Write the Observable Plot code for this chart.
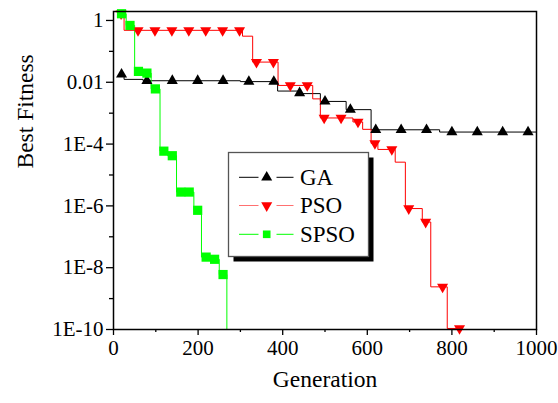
<!DOCTYPE html>
<html><head><meta charset="utf-8">
<script src="https://cdn.jsdelivr.net/npm/d3@7"></script>
<script src="https://cdn.jsdelivr.net/npm/@observablehq/plot@0.6"></script>
<style>
body{margin:0;background:#fff;}
#chart{position:relative;width:558px;height:403px;}
</style></head><body><div id="chart"></div>
<script>
// ---- data ----
const seriesNames = ["GA", "PSO", "SPSO"];

// GA step line (generation where a new best value starts, value)
const gaGen = [19, 25, 70, 300, 388, 440, 489, 550, 609, 771, 1000];
const gaVal = [0.018, 0.0124, 0.0112, 0.0105, 0.0052, 0.0043, 0.0024, 0.0013, 0.00029, 0.000245, 0.000245];
// GA markers
const gaMarkGen = [19, 79, 139, 199, 259, 320, 379, 440, 500, 560, 620, 680, 740, 800, 860, 920, 980];
const gaMarkVal = [0.018, 0.0112, 0.0112, 0.0112, 0.0112, 0.0105, 0.0105, 0.0045, 0.0024, 0.0013, 0.00029, 0.00029, 0.00029, 0.000245, 0.000245, 0.000245, 0.000245];

// PSO step line
const psoGen = [18, 25, 305, 329, 389, 471, 489, 566, 589, 609, 625, 666, 690, 730, 750, 789, 820];
const psoVal = [1.65, 0.48, 0.31, 0.045, 0.0079, 0.0029, 0.0007, 0.00052, 0.0003, 1.05e-4, 6.7e-5, 2.6e-5, 8.2e-7, 3.0e-7, 2.4e-9, 1.08e-10, 1.08e-10];
// PSO markers
const psoMarkGen = [18, 58, 98, 138, 178, 218, 258, 298, 338, 378, 418, 458, 498, 538, 578, 618, 658, 698, 738, 778, 818];
const psoMarkVal = [1.65, 0.48, 0.48, 0.48, 0.48, 0.48, 0.48, 0.48, 0.045, 0.045, 0.0079, 0.0079, 0.0007, 0.0007, 0.00052, 1.05e-4, 6.7e-5, 8.2e-7, 3.0e-7, 2.4e-9, 1.08e-10];

// SPSO step line
const spGen = [19, 30, 50, 70, 89, 110, 128, 149, 190, 208, 230, 250, 268];
const spVal = [1.65, 0.69, 0.0225, 0.0198, 0.0061, 5.9e-5, 4.2e-5, 2.8e-6, 7.2e-7, 2.2e-8, 1.87e-8, 6.0e-9, 1e-10];
// SPSO markers
const spMarkGen = [19, 39, 59, 79, 99, 119, 139, 159, 179, 199, 219, 239, 259];
const spMarkVal = [1.65, 0.69, 0.0225, 0.0198, 0.0061, 5.9e-5, 4.2e-5, 2.8e-6, 2.8e-6, 7.2e-7, 2.2e-8, 1.87e-8, 6.0e-9];

// axes
const xTicks = [0, 200, 400, 600, 800, 1000];
const xMinorTicks = [100, 300, 500, 700, 900];
const yTicks = [1, 1e-2, 1e-4, 1e-6, 1e-8, 1e-10];
const yTickLabels = ["1", "0.01", "1E-4", "1E-6", "1E-8", "1E-10"];
const yMinorTicks = [1e-1, 1e-3, 1e-5, 1e-7, 1e-9];
const xTitle = "Generation";
const yTitle = "Best Fitness";

// ---- build ----
const rows = (g, v) => g.map((x, i) => ({gen: x, val: v[i]}));
const colors = {GA: "#000000", PSO: "#ff0000", SPSO: "#00ff00"};
const FONT = "Liberation Serif";

const chart = Plot.plot({
  width: 558, height: 403,
  marginLeft: 113, marginRight: 22, marginTop: 11, marginBottom: 74,
  style: {fontFamily: FONT, fontSize: "21px", background: "white", color: "black"},
  x: {domain: [0, 1000], label: null},
  y: {type: "log", domain: [1e-10, 1.95], label: null},
  marks: [
    Plot.axisX({ticks: xTicks, tickSize: 6, tickPadding: 5, tickFormat: d => String(d), label: null, strokeWidth: 1.3, fontSize: 21}),
    Plot.axisX({ticks: xMinorTicks, tickSize: 3, tickFormat: () => "", label: null, strokeWidth: 1.3}),
    Plot.axisY({ticks: yTicks, tickSize: 7, tickPadding: 3, tickFormat: d => yTickLabels[yTicks.indexOf(d)], label: null, strokeWidth: 1.3, fontSize: 21}),
    Plot.axisY({ticks: yMinorTicks, tickSize: 4, tickFormat: () => "", label: null, strokeWidth: 1.3}),
    Plot.line(rows(gaGen, gaVal), {x: "gen", y: "val", curve: "step-after", stroke: colors.GA, strokeWidth: 1}),
    Plot.line(rows(psoGen, psoVal), {x: "gen", y: "val", curve: "step-after", stroke: colors.PSO, strokeWidth: 1}),
    Plot.line(rows(spGen, spVal), {x: "gen", y: "val", curve: "step-after", stroke: colors.SPSO, strokeWidth: 1}),
    Plot.dot(rows(gaMarkGen, gaMarkVal), {x: "gen", y: "val", symbol: "triangle", r: 4.1, fill: colors.GA, stroke: "none"}),
    Plot.dot(rows(psoMarkGen, psoMarkVal), {x: "gen", y: "val", symbol: "triangle", rotate: 180, r: 4.1, fill: colors.PSO, stroke: "none"}),
    Plot.dot(rows(spMarkGen, spMarkVal), {x: "gen", y: "val", symbol: "square", r: 5.2, fill: colors.SPSO, stroke: "none"}),
    Plot.frame({stroke: "#000", strokeWidth: 1.5}),
    Plot.text([xTitle], {text: d => d, frameAnchor: "bottom", dy: 57, fontSize: 23.5, fill: "#000", fontFamily: FONT}),
    Plot.text([yTitle], {text: d => d, frameAnchor: "left", dx: -88.5, dy: -2, rotate: -90, fontSize: 23.5, fill: "#000", fontFamily: FONT})
  ]
});

// ---- legend (inside the plot area) ----
const svg = d3.select(chart);
const lg = svg.append("g").attr("class", "legend").attr("text-anchor", "start");
const box = {x: 228.5, y: 152.5, w: 140, h: 104};
lg.append("rect").attr("x", box.x + 5).attr("y", box.y + 5).attr("width", box.w).attr("height", box.h).attr("fill", "#000");
lg.append("rect").attr("x", box.x).attr("y", box.y).attr("width", box.w).attr("height", box.h)
  .attr("fill", "#fff").attr("stroke", "#555").attr("stroke-width", 1.3);
const rowY = [177.3, 205.5, 234.3];
const legendLine = {GA: "#000000", PSO: "#ff7070", SPSO: "#00ff00"};
seriesNames.forEach((name, i) => {
  const y = rowY[i];
  lg.append("line").attr("x1", 239).attr("x2", 258.5).attr("y1", y).attr("y2", y).attr("stroke", legendLine[name]).attr("stroke-width", 1);
  lg.append("line").attr("x1", 276.5).attr("x2", 293.5).attr("y1", y).attr("y2", y).attr("stroke", legendLine[name]).attr("stroke-width", 1);
  let sym, size, rot = 0;
  if (name === "GA") { sym = d3.symbolTriangle; size = Math.PI * 4.1 * 4.1; }
  else if (name === "PSO") { sym = d3.symbolTriangle; size = Math.PI * 4.1 * 4.1; rot = 180; }
  else { sym = d3.symbolSquare; size = Math.PI * 4.3 * 4.3; }
  lg.append("path").attr("d", d3.symbol(sym, size)()).attr("fill", colors[name])
    .attr("transform", `translate(266.7,${y}) rotate(${rot})`);
  lg.append("text").attr("x", 300).attr("y", y).attr("dy", "0.34em").attr("font-size", 23)
    .attr("text-anchor", "start").attr("font-family", FONT).attr("fill", "#000").text(name);
});

document.getElementById("chart").appendChild(chart);
</script></body></html>
